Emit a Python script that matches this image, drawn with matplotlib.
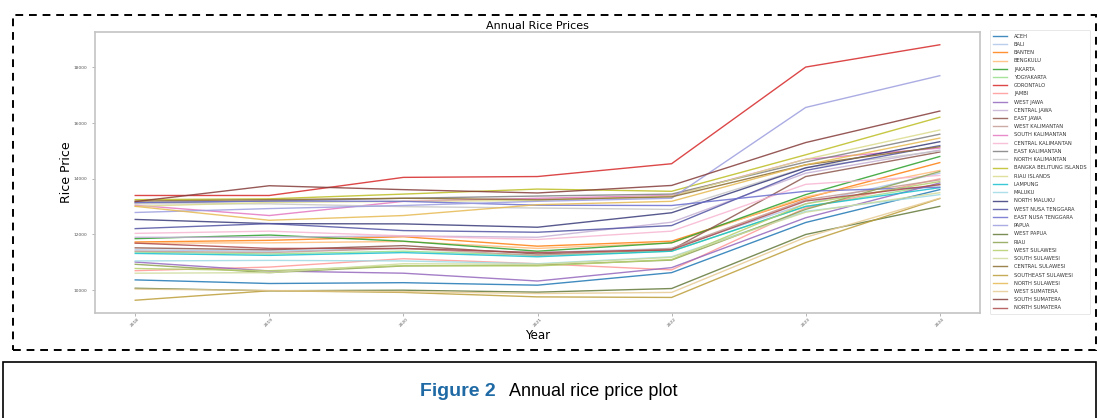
import matplotlib
matplotlib.use("Agg")
import matplotlib.pyplot as plt
from matplotlib.patches import Rectangle

years = [2018, 2019, 2020, 2021, 2022, 2023, 2024]

provinces = ["ACEH", "BALI", "BANTEN", "BENGKULU", "JAKARTA", "YOGYAKARTA", "GORONTALO",
             "JAMBI", "WEST JAWA", "CENTRAL JAWA", "EAST JAWA", "WEST KALIMANTAN",
             "SOUTH KALIMANTAN", "CENTRAL KALIMANTAN", "EAST KALIMANTAN", "NORTH KALIMANTAN",
             "BANGKA BELITUNG ISLANDS", "RIAU ISLANDS", "LAMPUNG", "MALUKU", "NORTH MALUKU",
             "WEST NUSA TENGGARA", "EAST NUSA TENGGARA", "PAPUA", "WEST PAPUA", "RIAU",
             "WEST SULAWESI", "SOUTH SULAWESI", "CENTRAL SULAWESI", "SOUTHEAST SULAWESI",
             "NORTH SULAWESI", "WEST SUMATERA", "SOUTH SUMATERA", "NORTH SUMATERA"]

aceh = [10370, 10240, 10270, 10180, 10630, 12430, 13610]
bali = [11450, 11400, 11500, 11350, 11500, 13100, 14200]
banten = [11730, 11790, 11920, 11580, 11760, 13300, 14580]
bengkulu = [11690, 11700, 11750, 11500, 11700, 13350, 14300]
jakarta = [11850, 11980, 11760, 11400, 11700, 13430, 14800]
yogyakarta = [11370, 11300, 11400, 11250, 11400, 13000, 13790]
gorontalo = [13400, 13400, 14050, 14080, 14540, 18010, 18810]
jambi = [10700, 10830, 11130, 10950, 10730, 12950, 14000]
west_jawa = [11010, 10690, 10610, 10330, 10810, 12600, 13850]
central_jawa = [11900, 11900, 11950, 11900, 12440, 14200, 15030]
east_jawa = [11520, 11450, 11600, 11300, 11450, 14080, 14960]
west_kalimantan = [11400, 11350, 11500, 11250, 11500, 13250, 13960]
south_kalimantan = [13050, 12680, 13190, 13300, 13400, 14700, 15100]
central_kalimantan = [12040, 12120, 11950, 11820, 12120, 13800, 14120]
east_kalimantan = [13130, 13200, 13300, 13380, 13450, 14600, 15600]
north_kalimantan = [13100, 13100, 13000, 12950, 12900, 14400, 15000]
bangka = [13250, 13280, 13450, 13630, 13550, 14860, 16210]
riau_islands = [13010, 13150, 13190, 13220, 13380, 14700, 15750]
lampung = [11320, 11250, 11350, 11200, 11400, 13010, 13680]
maluku = [11050, 11070, 11050, 10950, 11200, 12830, 13430]
north_maluku = [12540, 12390, 12380, 12260, 12780, 14390, 15330]
west_nusa_tenggara = [12210, 12390, 12140, 12080, 12320, 14300, 15190]
east_nusa_tenggara = [13150, 13200, 13190, 13050, 13040, 13550, 13700]
papua = [12790, 12930, 13040, 13190, 13300, 16560, 17700]
west_papua = [10070, 9980, 10000, 9930, 10060, 12000, 13010]
riau = [10930, 10630, 10870, 10900, 11080, 12900, 14260]
west_sulawesi = [10780, 10700, 10880, 10870, 11100, 13100, 13900]
south_sulawesi = [10610, 10630, 10950, 10930, 11180, 12800, 13500]
central_sulawesi = [13200, 13250, 13300, 13250, 13350, 14500, 15150]
southeast_sulawesi = [9640, 9980, 9920, 9760, 9740, 11710, 13290]
north_sulawesi = [13010, 12510, 12680, 13070, 13190, 14500, 15460]
west_sumatera = [10040, 9990, 9950, 9880, 9920, 11900, 13300]
south_sumatera = [13180, 13750, 13610, 13490, 13760, 15300, 16430]
north_sumatera = [11690, 11500, 11500, 11350, 11450, 13200, 13790]

series = [aceh, bali, banten, bengkulu, jakarta, yogyakarta, gorontalo, jambi, west_jawa,
          central_jawa, east_jawa, west_kalimantan, south_kalimantan, central_kalimantan,
          east_kalimantan, north_kalimantan, bangka, riau_islands, lampung, maluku,
          north_maluku, west_nusa_tenggara, east_nusa_tenggara, papua, west_papua, riau,
          west_sulawesi, south_sulawesi, central_sulawesi, southeast_sulawesi,
          north_sulawesi, west_sumatera, south_sumatera, north_sumatera]

colors = list(plt.get_cmap("tab20").colors) + list(plt.get_cmap("tab20b").colors)[:14]

plt.rcParams['font.family'] = ['DejaVu Sans']
fig = plt.figure(figsize=(10.99, 4.18), dpi=100)
W, H = 1099, 418

ax = fig.add_axes([95 / W, 1 - 313 / H, (980 - 95) / W, (313 - 32) / H])
for name, vals, c in zip(provinces, series, colors):
    ax.plot(years, vals, color=c, lw=1.0, alpha=0.85, label=name)

ax.set_title("Annual Rice Prices", fontsize=8, pad=2)
ax.set_xlabel("Year", fontsize=8.5, labelpad=1)
ax.set_ylabel("Rice Price", fontsize=9, labelpad=0.5)
ax.set_xticks(years)
ax.set_xticklabels([str(y) for y in years], rotation=45, fontsize=3.2, color="#555555")
ax.set_yticks([10000, 12000, 14000, 16000, 18000])
ax.tick_params(axis="y", labelsize=3.2, labelcolor="#555555", length=2, width=0.5, color="#999999")
ax.tick_params(axis="x", length=2, width=0.5, color="#999999", pad=1)
for s in ax.spines.values():
    s.set_color("#c4c4c4")
    s.set_linewidth(1.2)

leg = ax.legend(loc="upper left", bbox_to_anchor=(1.011, 1.007), fontsize=3.7,
                labelspacing=0.63, handlelength=2.7, handletextpad=1.3,
                borderpad=0.7, frameon=True, fancybox=True, borderaxespad=0)
leg.get_frame().set_edgecolor("#dddddd")
leg.get_frame().set_linewidth(0.6)
for t in leg.get_texts():
    t.set_color("#333333")

# dashed outer border
fig.patches.append(Rectangle((13 / W, 1 - 350 / H), (1096 - 13) / W, (350 - 15) / H,
                             transform=fig.transFigure, fill=False, edgecolor="black",
                             linewidth=1.4, linestyle=(0, (4, 3)), zorder=5))
# caption box
fig.patches.append(Rectangle((3 / W, -0.01), (1096 - 3) / W, (1 - 362 / H) + 0.01,
                             transform=fig.transFigure, fill=False, edgecolor="black",
                             linewidth=1.2, zorder=5))

fig.text(420 / W, 1 - 391 / H, "Figure 2", fontsize=14, fontweight="bold",
         color="#1f6aa5", family=["Liberation Sans"], va="center", ha="left")
fig.text(509 / W, 1 - 391 / H, "Annual rice price plot", fontsize=13, color="black",
         family=["Liberation Sans"], va="center", ha="left")

fig.savefig("out.png", dpi=100)
